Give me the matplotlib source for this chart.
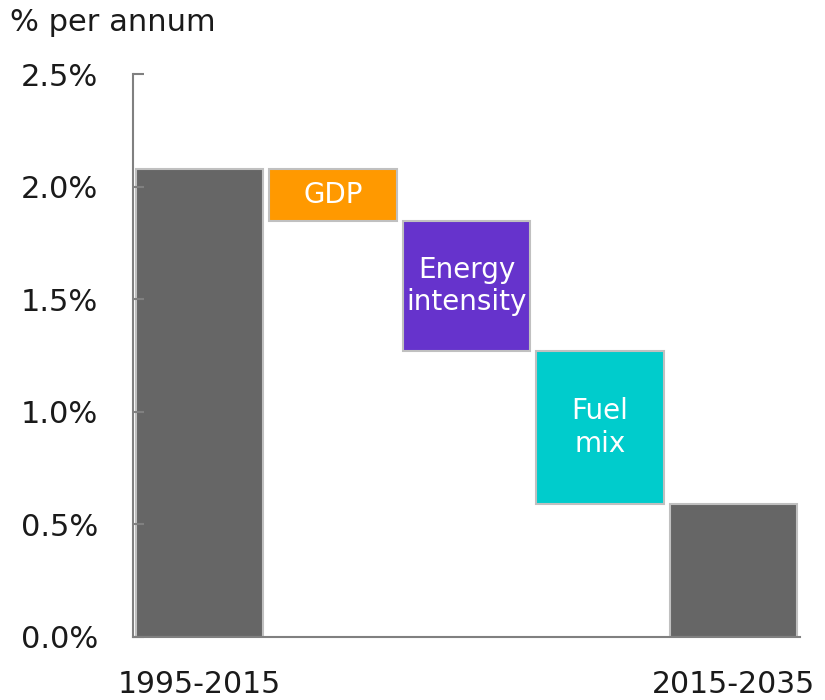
import matplotlib.pyplot as plt
import numpy as np

plt.rcParams['font.family'] = ['DejaVu Sans']

# dados
categories = ["1995-2015", "GDP", "Energy\nintensity", "Fuel\nmix", "2015-2035"]
start_value = 2.08
changes = [-0.23, -0.58, -0.68]
end_value = 0.59
colors = ["#666666", "#FF9900", "#6633CC", "#00CCCC", "#666666"]
xtick_labels = ["1995-2015", "", "", "", "2015-2035"]
yticks = [0.0, 0.5, 1.0, 1.5, 2.0, 2.5]

# calcular bases e alturas do waterfall
bottoms = [0.0]
heights = [start_value]
level = start_value
for c in changes:
    bottoms.append(level + c)
    heights.append(-c)
    level += c
bottoms.append(0.0)
heights.append(end_value)

fig = plt.figure(figsize=(8.25, 7), dpi=100)
ax = fig.add_axes([0.161, 0.09, 0.809, 0.804])

x = np.arange(len(categories))
ax.bar(x, heights, bottom=bottoms, width=0.955, color=colors,
       edgecolor="#C0C0C0", linewidth=1.5)

# rótulos dentro das barras de variação
for i in range(1, 4):
    ax.text(x[i], bottoms[i] + heights[i] / 2, categories[i], ha="center",
            va="center", color="white", fontsize=20)

ax.set_xlim(-0.5, 4.5)
ax.set_ylim(0, 2.5)
ax.set_yticks(yticks)
ax.set_yticklabels([f"{v:.1f}%" for v in yticks], fontsize=22, color="#1a1a1a")
ax.set_xticks(x)
ax.set_xticklabels(xtick_labels, fontsize=21.5, color="#1a1a1a")

ax.spines["top"].set_visible(False)
ax.spines["right"].set_visible(False)
for s in ["left", "bottom"]:
    ax.spines[s].set_color("#808080")
    ax.spines[s].set_linewidth(1.5)
ax.tick_params(axis="y", direction="in", length=8, width=1.5, color="#808080", pad=25)
ax.tick_params(axis="x", length=0, pad=24)

fig.text(0.012, 0.968, "% per annum", fontsize=22, color="#1a1a1a", va="center")

fig.savefig("out.png", dpi=100)
